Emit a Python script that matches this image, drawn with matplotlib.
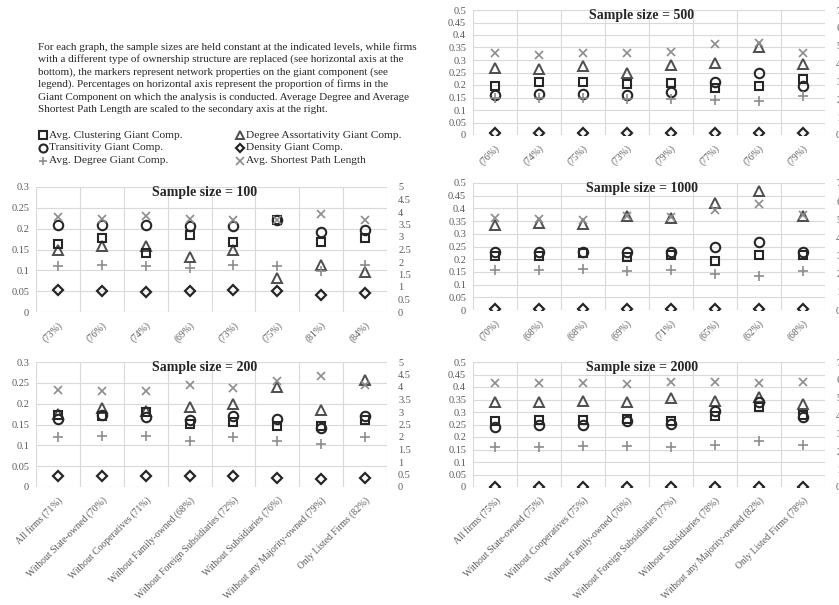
import numpy as np
import matplotlib
matplotlib.use("Agg")
import matplotlib.pyplot as plt
from matplotlib.lines import Line2D

plt.rcParams['font.family'] = ['Liberation Serif', 'DejaVu Serif']

# ---- data ----
categories = ["All firms", "Without State-owned", "Without Cooperatives", "Without Family-owned",
              "Without Foreign Subsidiaries", "Without Subsidiaries", "Without any Majority-owned",
              "Only Listed Firms"]

pct_100 = [73, 76, 74, 69, 73, 75, 81, 84]
clu_100 = [0.163, 0.177, 0.141, 0.186, 0.168, 0.222, 0.167, 0.177]
tra_100 = [0.210, 0.208, 0.208, 0.206, 0.206, 0.221, 0.193, 0.198]
ass_100 = [0.148, 0.159, 0.159, 0.133, 0.148, 0.081, 0.114, 0.095]
den_100 = [0.052, 0.050, 0.049, 0.050, 0.053, 0.050, 0.041, 0.045]
deg_100 = [1.85, 1.89, 1.83, 1.75, 1.89, 1.83, 1.65, 1.89]
spl_100 = [3.81, 3.73, 3.84, 3.73, 3.70, 3.70, 3.94, 3.70]

pct_200 = [71, 70, 71, 68, 72, 76, 79, 82]
clu_200 = [0.172, 0.170, 0.180, 0.152, 0.156, 0.146, 0.146, 0.160]
tra_200 = [0.164, 0.174, 0.168, 0.162, 0.170, 0.164, 0.142, 0.170]
ass_200 = [0.176, 0.190, 0.182, 0.192, 0.200, 0.240, 0.186, 0.256]
den_200 = [0.026, 0.027, 0.027, 0.026, 0.027, 0.022, 0.020, 0.022]
deg_200 = [2.00, 2.03, 2.03, 1.83, 2.00, 1.83, 1.73, 2.00]
spl_200 = [3.89, 3.83, 3.83, 4.09, 3.96, 4.23, 4.43, 4.09]

pct_500 = [76, 74, 75, 73, 79, 77, 76, 79]
clu_500 = [0.197, 0.214, 0.214, 0.203, 0.210, 0.190, 0.197, 0.225]
tra_500 = [0.161, 0.164, 0.164, 0.161, 0.174, 0.214, 0.250, 0.197]
ass_500 = [0.267, 0.263, 0.277, 0.250, 0.280, 0.287, 0.354, 0.283]
den_500 = [0.008, 0.008, 0.008, 0.008, 0.008, 0.008, 0.008, 0.008]
deg_500 = [2.07, 2.10, 2.07, 2.00, 2.03, 1.97, 1.92, 2.20]
spl_500 = [4.58, 4.48, 4.58, 4.62, 4.67, 5.08, 5.14, 4.62]

pct_1000 = [70, 68, 68, 69, 71, 65, 62, 68]
clu_1000 = [0.213, 0.213, 0.223, 0.207, 0.216, 0.193, 0.216, 0.216]
tra_1000 = [0.227, 0.227, 0.229, 0.229, 0.227, 0.247, 0.267, 0.227]
ass_1000 = [0.336, 0.343, 0.340, 0.370, 0.363, 0.420, 0.470, 0.370]
den_1000 = [0.004, 0.004, 0.004, 0.004, 0.004, 0.004, 0.004, 0.004]
deg_1000 = [2.20, 2.20, 2.24, 2.15, 2.18, 1.96, 1.90, 2.15]
spl_1000 = [5.08, 5.00, 4.95, 5.19, 5.14, 5.50, 5.82, 5.23]

pct_2000 = [75, 75, 75, 76, 77, 78, 82, 78]
clu_2000 = [0.266, 0.269, 0.269, 0.273, 0.266, 0.286, 0.319, 0.289]
tra_2000 = [0.242, 0.250, 0.249, 0.263, 0.253, 0.306, 0.339, 0.279]
ass_2000 = [0.339, 0.342, 0.343, 0.339, 0.356, 0.343, 0.359, 0.332]
den_2000 = [0.002, 0.002, 0.002, 0.002, 0.002, 0.002, 0.002, 0.002]
deg_2000 = [2.23, 2.23, 2.27, 2.27, 2.23, 2.33, 2.55, 2.33]
spl_2000 = [5.83, 5.83, 5.83, 5.77, 5.90, 5.90, 5.83, 5.87]

note_lines = [
    "For each graph, the sample sizes are held constant at the indicated levels, while firms",
    "with a different type of ownership structure are replaced (see horizontal axis at the",
    "bottom), the markers represent network properties on the giant component (see",
    "legend). Percentages on horizontal axis represent the proportion of firms in the",
    "Giant Component on which the analysis is conducted. Average Degree and Average",
    "Shortest Path Length are scaled to the secondary axis at the right.",
]

# ---- styles ----
W, H = 839, 605
GRID = '#d9d9d9'
TXT = '#595959'
DARK = '#262626'
GREY = '#8c8c8c'

sty = {
    'clu': dict(marker='s', ms=6, mfc='none', mec=DARK, mew=1.5, ls='none'),
    'tra': dict(marker='o', ms=6.8, mfc='none', mec=DARK, mew=1.5, ls='none'),
    'ass': dict(marker='^', ms=6.5, mfc='none', mec='#4d4d4d', mew=1.4, ls='none'),
    'den': dict(marker='D', ms=4.8, mfc='none', mec=DARK, mew=1.6, ls='none'),
    'deg': dict(marker='+', ms=7, mec=GREY, mew=1.2, ls='none'),
    'spl': dict(marker='x', ms=6, mec=GREY, mew=1.2, ls='none'),
}

fig = plt.figure(figsize=(W / 100, H / 100), dpi=100)


def px_axes(l, t, r, b):
    return fig.add_axes([l / W, 1 - b / H, (r - l) / W, (b - t) / H])


def panel(box, size, pct, clu, tra, ass, den, deg, spl, ymax, ystep, y2max, y2step, full_labels):
    ax = px_axes(*box)
    x = np.arange(1, 9)
    ax.set_xlim(0.5, 8.5)
    ax.set_ylim(0, ymax)
    ticks = np.arange(0, ymax + ystep / 2, ystep)
    ax.set_yticks(ticks)
    ax.set_yticklabels([f"{v:g}" for v in ticks])
    ax.set_xticks(x)
    if full_labels:
        labs = [f"{c} ({p}%)" for c, p in zip(categories, pct)]
    else:
        labs = [f"({p}%)" for p in pct]
    ax.set_xticklabels(labs, rotation=45, ha='right', rotation_mode='anchor', fontsize=6.9)
    ax.set_xticks(np.arange(0.5, 9, 1), minor=True)
    ax.grid(axis='y', color=GRID, lw=0.8)
    ax.grid(axis='x', which='minor', color=GRID, lw=0.8)
    ax.set_axisbelow(True)
    for s in ax.spines.values():
        s.set_visible(False)
    ax.tick_params(axis='both', which='both', length=0, colors=TXT)
    ax.tick_params(axis='y', pad=5, labelsize=7.4)
    ax.tick_params(axis='x', pad=6)

    ax.plot(x, den, **sty['den'], zorder=3)
    ax.plot(x, ass, **sty['ass'], zorder=3)
    ax.plot(x, tra, **sty['tra'], zorder=3)
    ax.plot(x, clu, **sty['clu'], zorder=3)

    ax2 = ax.twinx()
    ax2.set_ylim(0, y2max)
    t2 = np.arange(0, y2max + y2step / 2, y2step)
    ax2.set_yticks(t2)
    ax2.set_yticklabels([f"{v:g}" for v in t2])
    for s in ax2.spines.values():
        s.set_visible(False)
    ax2.tick_params(axis='y', length=0, colors=TXT, labelsize=7.4, pad=8)
    ax2.plot(x, deg, **sty['deg'])
    ax2.plot(x, spl, **sty['spl'])

    ax.text(0.48, 0.955, f"Sample size = {size}", transform=ax.transAxes, ha='center', va='center',
            fontsize=10, fontweight='bold', color=DARK, zorder=5)
    return ax


panel((36, 187, 387, 312), 100, pct_100, clu_100, tra_100, ass_100, den_100, deg_100, spl_100,
      0.3, 0.05, 5, 0.5, False)
panel((36, 362, 387, 487), 200, pct_200, clu_200, tra_200, ass_200, den_200, deg_200, spl_200,
      0.3, 0.05, 5, 0.5, True)
panel((473, 10, 825, 135), 500, pct_500, clu_500, tra_500, ass_500, den_500, deg_500, spl_500,
      0.5, 0.05, 7, 1, False)
panel((473, 183, 825, 310), 1000, pct_1000, clu_1000, tra_1000, ass_1000, den_1000, deg_1000, spl_1000,
      0.5, 0.05, 7, 1, False)
panel((473, 362, 825, 487), 2000, pct_2000, clu_2000, tra_2000, ass_2000, den_2000, deg_2000, spl_2000,
      0.5, 0.05, 7, 1, True)

# explanatory note
for i, line in enumerate(note_lines):
    fig.text(38 / W, 1 - (47 + 12.5 * i) / H, line, ha='left', va='center', fontsize=8.05, color=DARK)

# legend, drawn by hand so it sits like the original
leg_items = [
    ('clu', "Avg. Clustering Giant Comp.", 0, 0),
    ('tra', "Transitivity Giant Comp.", 0, 1),
    ('deg', "Avg. Degree Giant Comp.", 0, 2),
    ('ass', "Degree Assortativity Giant Comp.", 1, 0),
    ('den', "Density Giant Comp.", 1, 1),
    ('spl', "Avg. Shortest Path Length", 1, 2),
]
col_x = [43, 240]
for key, label, col, row in leg_items:
    yy = 1 - (135 + 12.8 * row) / H
    st = dict(sty[key])
    st['ms'] = st['ms'] * 0.85
    fig.add_artist(Line2D([col_x[col] / W], [yy], transform=fig.transFigure, **st))
    fig.text((col_x[col] + 6) / W, yy, label, ha='left', va='center', fontsize=8.2, color=DARK)

fig.savefig("out.png", dpi=100)
